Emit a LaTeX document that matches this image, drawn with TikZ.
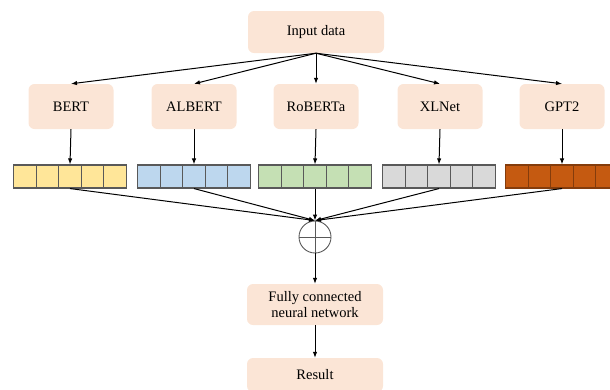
\documentclass[tikz,border=0pt]{standalone}
\usepackage{fontspec}
\setmainfont{Liberation Serif}
\usetikzlibrary{arrows.meta}
\definecolor{peach}{HTML}{FBE5D6}
\definecolor{cyel}{HTML}{FFE699}
\definecolor{cblu}{HTML}{BDD7EE}
\definecolor{cgrn}{HTML}{C5E0B4}
\definecolor{cgry}{HTML}{D9D9D9}
\definecolor{corg}{HTML}{C55A11}
\definecolor{corgb}{HTML}{843C0C}
\definecolor{cellline}{HTML}{595959}
\tikzset{
  box/.style={rectangle, rounded corners=6pt, fill=peach, draw=none,
    minimum width=136pt, minimum height=42pt, align=center,
    font=\fontsize{14.5}{17}\selectfont, text=black},
  model/.style={box, minimum width=85pt, minimum height=45pt},
  cell/.style={rectangle, draw=cellline, line width=1.1pt, minimum width=22.5pt,
    minimum height=23pt, inner sep=0pt},
  arr/.style={-{Latex[length=6pt,width=4.5pt]}, line width=1pt, black},
  plus/.style={circle, draw=cellline, line width=0.9pt, minimum size=32pt, inner sep=0pt,
    path picture={\draw[cellline, line width=0.9pt]
      (path picture bounding box.north) -- (path picture bounding box.south)
      (path picture bounding box.west) -- (path picture bounding box.east);}}
}
\begin{document}
\begin{tikzpicture}[x=1pt, y=-1pt]
\useasboundingbox (0,0) rectangle (610,389);
\clip (0,0) rectangle (610,389);

\node[box] (inp) at (316,32) {Input data};

% the five language models
\node[model] (m1) at (71,106.5) {BERT};
\node[model] (m2) at (194,106.5) {ALBERT};
\node[model] (m3) at (316,106.5) {RoBERTa};
\node[model] (m4) at (440,106.5) {XLNet};
\node[model] (m5) at (562,106.5) {GPT2};

% embedding vectors, five cells each
\foreach \n/\cx/\fc/\dc in {a/70/cyel/cellline, b/194/cblu/cellline, c/315/cgrn/cellline,
                            d/439/cgry/cellline, e/562/corg/corgb}{
  \foreach \k in {1,...,5}{
    \node[cell, fill=\fc, draw=\dc] (\n\k) at ({\cx+(\k-3)*22.5},176.5) {};
  }
}

\node[plus] (sum) at (315,237) {};

\node[box, minimum height=41pt] (fc) at (315,304.5) {Fully connected\\[-1pt]neural network};
\node[box, minimum height=34pt] (res) at (315,375) {Result};

% fan-out from the input
\foreach \i in {1,...,5}{
  \draw[arr] (inp.south) -- (m\i.north);
}
% model to vector
\draw[arr] (m1.south) -- (a3.north);
\draw[arr] (m2.south) -- (b3.north);
\draw[arr] (m3.south) -- (c3.north);
\draw[arr] (m4.south) -- (d3.north);
\draw[arr] (m5.south) -- (e3.north);
% vectors into the sum
\foreach \n in {a,b,c,d,e}{
  \draw[arr] (\n3.south) -- (sum.north);
}
\draw[arr] (sum.south) -- (fc.north);
\draw[arr] (fc.south) -- (res.north);
\end{tikzpicture}
\end{document}
